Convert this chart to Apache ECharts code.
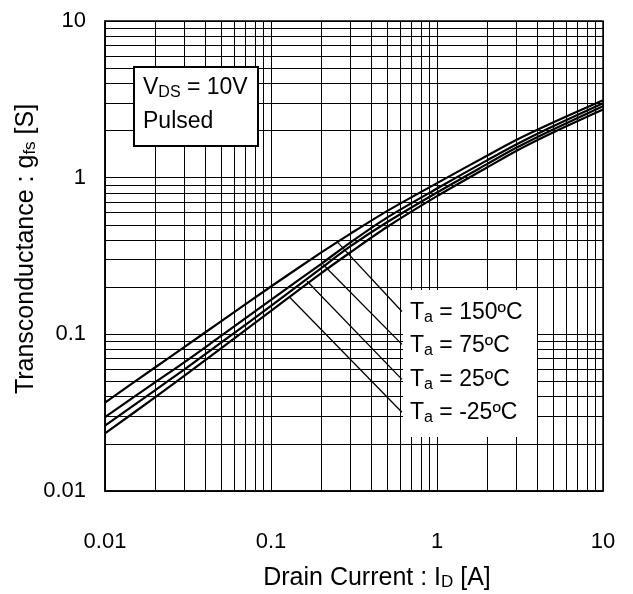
<!DOCTYPE html>
<html><head><meta charset="utf-8">
<script src="https://cdn.jsdelivr.net/npm/echarts@6/dist/echarts.min.js"></script>
<style>html,body{margin:0;padding:0;background:#fff}#c{width:633px;height:594px}</style>
</head><body><div id="c"></div>
<script>
// Drain current (A)
const drainCurrent = [0.01, 0.02, 0.03, 0.05, 0.1, 0.2, 0.3, 0.5, 1, 2, 3, 5, 10];
// Transconductance (S) per ambient temperature
const gfs150 = [0.0367, 0.0614, 0.0828, 0.121, 0.202, 0.332, 0.438, 0.612, 0.923, 1.38, 1.74, 2.25, 3.12];
const gfs75  = [0.0296, 0.0493, 0.0662, 0.0977, 0.166, 0.281, 0.385, 0.556, 0.853, 1.29, 1.63, 2.13, 2.99];
const gfs25  = [0.0261, 0.0439, 0.0596, 0.0885, 0.152, 0.264, 0.364, 0.519, 0.804, 1.22, 1.55, 2.03, 2.86];
const gfsM25 = [0.0233, 0.0396, 0.0543, 0.0813, 0.141, 0.245, 0.333, 0.484, 0.762, 1.16, 1.48, 1.94, 2.72];
const tempLabels = ['150ºC', '75ºC', '25ºC', '-25ºC'];
const xTicks = [0.01, 0.1, 1, 10];
const yTicks = [0.01, 0.1, 1, 10];
const minorMult = [2, 3, 4, 5, 6, 7, 8, 9];

const minorX = [], minorY = [];
for (let i = 0; i < xTicks.length - 1; i++) minorMult.forEach(m => minorX.push(+(xTicks[i] * m).toPrecision(3)));
for (let i = 0; i < yTicks.length - 1; i++) minorMult.forEach(m => minorY.push(+(yTicks[i] * m).toPrecision(3)));

// leader annotations: [start point on curve, end at label] in data coordinates
const leaders = [
  [[0.253, 0.385], [0.615, 0.140]],
  [[0.206, 0.279], [0.615, 0.0863]],
  [[0.165, 0.218], [0.615, 0.0516]],
  [[0.130, 0.172], [0.615, 0.0318]]
];

const FONT = 'Liberation Sans, Arial, sans-serif';
const chart = echarts.init(document.getElementById('c'), null, {renderer: 'canvas'});
const seriesData = [gfs150, gfs75, gfs25, gfsM25];

const series = seriesData.map((arr, i) => ({
  type: 'line',
  name: tempLabels[i],
  data: drainCurrent.map((x, j) => [x, arr[j]]),
  smooth: 0.3,
  showSymbol: false,
  silent: true,
  z: 5,
  lineStyle: {color: '#000', width: 2.2},
  markLine: {
    silent: true, symbol: 'none', animation: false,
    lineStyle: {color: '#000', width: 1.3, type: 'solid'},
    label: {show: false},
    data: [[{coord: leaders[i][0]}, {coord: leaders[i][1]}]]
  }
}));

series.push({
  type: 'line', data: [], silent: true, z: 1,
  markLine: {
    silent: true, symbol: 'none', animation: false,
    lineStyle: {color: '#000', width: 1, type: 'solid'},
    label: {show: false},
    data: minorX.map(v => ({xAxis: v})).concat(minorY.map(v => ({yAxis: v})))
  }
});

const sub = {
  t: {fontSize: 23, fontFamily: FONT, color: '#000'},
  s: {fontSize: 16, fontFamily: FONT, color: '#000', verticalAlign: 'bottom', padding: [9, 0, 0, 0]}
};
const titleRich = {
  t: {fontSize: 25, fontFamily: FONT, color: '#000'},
  s: {fontSize: 17, fontFamily: FONT, color: '#000', verticalAlign: 'bottom', padding: [9, 0, 0, 0]}
};

chart.setOption({
  animation: false,
  backgroundColor: '#fff',
  grid: {left: 105, top: 21, right: 30, bottom: 103, show: true, borderColor: '#000', borderWidth: 1.5},
  xAxis: {
    type: 'log', logBase: 10, min: 0.01, max: 10,
    axisLine: {show: true, lineStyle: {color: '#000', width: 1.5}},
    axisTick: {show: false},
    splitLine: {show: true, lineStyle: {color: '#000', width: 1}},
    axisLabel: {color: '#000', fontSize: 22, fontFamily: FONT, margin: 40,
      formatter: v => String(+(+v).toPrecision(3))}
  },
  yAxis: {
    type: 'log', logBase: 10, min: 0.01, max: 10,
    axisLine: {show: true, lineStyle: {color: '#000', width: 1.5}},
    axisTick: {show: false},
    splitLine: {show: true, lineStyle: {color: '#000', width: 1}},
    axisLabel: {color: '#000', fontSize: 22, fontFamily: FONT, margin: 19,
      formatter: v => String(+(+v).toPrecision(3))}
  },
  series: series,
  graphic: [
    {type: 'rect', z: 20, shape: {x: 134, y: 67, width: 124, height: 79},
     style: {fill: '#fff', stroke: '#000', lineWidth: 2}},
    {type: 'text', z: 21, x: 143, y: 88,
     style: {text: '{t|V}{s|DS}{t| = 10V}', rich: sub, textVerticalAlign: 'middle'}},
    {type: 'text', z: 21, x: 143, y: 122,
     style: {text: 'Pulsed', fontSize: 23, fontFamily: FONT, fill: '#000', textVerticalAlign: 'middle'}},
    {type: 'rect', z: 20, shape: {x: 403, y: 290, width: 134, height: 147},
     style: {fill: '#fff'}},
    ...tempLabels.map((t, i) => ({
      type: 'text', z: 21, x: 410, y: [313, 346, 380, 413][i],
      style: {text: '{t|T}{s|a}{t| = ' + t + '}', rich: sub, textVerticalAlign: 'middle'}
    })),
    {type: 'text', z: 21, x: 377, y: 578,
     style: {text: '{t|Drain Current : I}{s|D}{t| [A]}', rich: titleRich,
       textAlign: 'center', textVerticalAlign: 'middle'}},
    {type: 'text', z: 21, x: 26, y: 249, rotation: Math.PI / 2,
     style: {text: '{t|Transconductance : g}{s|fs}{t| [S]}', rich: titleRich,
       textAlign: 'center', textVerticalAlign: 'middle'}}
  ]
});
</script></body></html>
